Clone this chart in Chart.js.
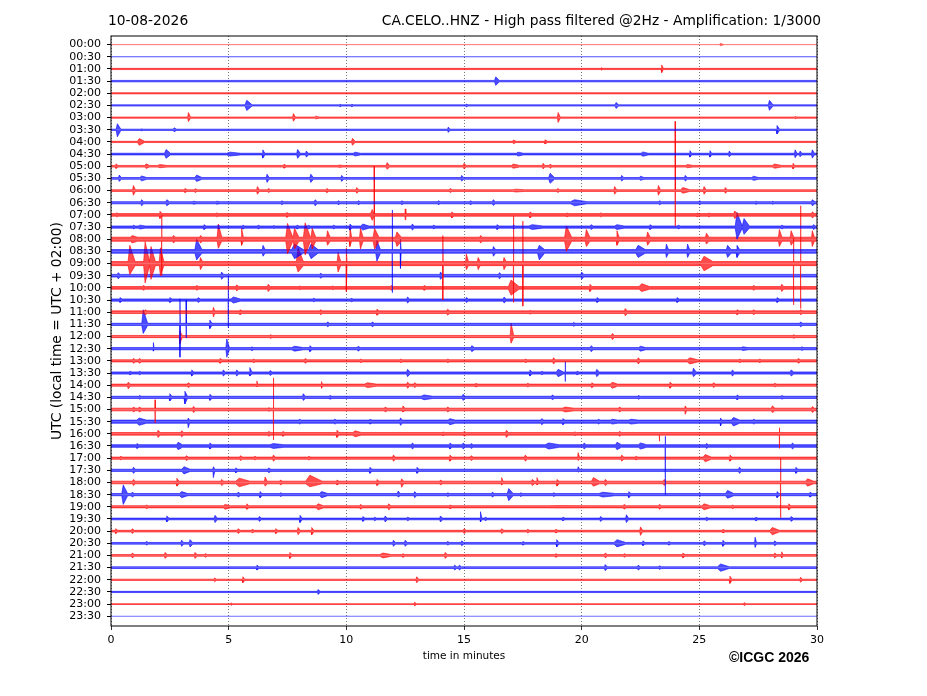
<!DOCTYPE html>
<html>
<head>
<meta charset="utf-8">
<title>CA.CELO..HNZ helicorder</title>
<script src="https://cdn.jsdelivr.net/npm/chart.js@4.4.1/dist/chart.umd.min.js"></script>
<style>
  html, body { margin: 0; padding: 0; background: #fff; }
  canvas { display: block; }
</style>
</head>
<body>
<canvas id="heli" width="927" height="696"></canvas>
<script>
// rows of the day plot, one every 30 minutes
var rowLabels = ["00:00","00:30","01:00","01:30","02:00","02:30","03:00","03:30",
  "04:00","04:30","05:00","05:30","06:00","06:30","07:00","07:30",
  "08:00","08:30","09:00","09:30","10:00","10:30","11:00","11:30",
  "12:00","12:30","13:00","13:30","14:00","14:30","15:00","15:30",
  "16:00","16:30","17:00","17:30","18:00","18:30","19:00","19:30",
  "20:00","20:30","21:00","21:30","22:00","22:30","23:00","23:30"];

var minuteTicks = [0, 5, 10, 15, 20, 25, 30];

// background noise half-amplitude of each trace (in row spacings)
var noise = [0, 0.01, 0.05, 0.06, 0.05, 0.05, 0.05, 0.05,
  0.05, 0.07, 0.07, 0.07, 0.07, 0.09, 0.11, 0.09,
  0.17, 0.15, 0.17, 0.11, 0.11, 0.09, 0.11, 0.09,
  0.09, 0.09, 0.09, 0.09, 0.09, 0.09, 0.11, 0.13,
  0.11, 0.11, 0.09, 0.09, 0.11, 0.09, 0.09, 0.07,
  0.07, 0.07, 0.07, 0.07, 0.05, 0.05, 0.03, 0];

// events per row: [minute, amplitude up, amplitude down, duration in minutes]
var events = [
  [[25.9,0.12,0.1,0.2]],
  [],
  [[23.4,0.33,0.3,0.1],[20.85,0.12,0.1,0.05]],
  [[16.35,0.35,0.35,0.2]],
  [],
  [[5.77,0.42,0.42,0.3],[21.46,0.25,0.25,0.15],[27.98,0.42,0.4,0.2],[15.1,0.12,0.12,0.1],[9.73,0.1,0.1,0.1],[10.23,0.1,0.1,0.1]],
  [[3.29,0.42,0.33,0.12],[7.75,0.33,0.3,0.12],[8.7,0.12,0.1,0.2],[19.0,0.42,0.4,0.12],[29.07,0.1,0.1,0.1]],
  [[0.27,0.5,0.58,0.2],[1.3,0.08,0.08,0.1],[2.68,0.16,0.16,0.15],[14.33,0.22,0.22,0.1],[28.3,0.35,0.35,0.15]],
  [[1.2,0.28,0.28,0.3],[10.26,0.3,0.28,0.15],[17.1,0.16,0.14,0.15],[18.44,0.18,0.16,0.15]],
  [[2.34,0.38,0.35,0.25],[5.06,0.16,0.16,0.6],[6.45,0.35,0.33,0.12],[7.93,0.38,0.35,0.15],[8.3,0.25,0.25,0.12],[10.37,0.16,0.16,0.3],[17.3,0.16,0.16,0.3],[22.6,0.18,0.18,0.3],[24.6,0.28,0.25,0.1],[25.45,0.28,0.25,0.1],[26.27,0.25,0.22,0.1],[29.07,0.35,0.3,0.1],[29.28,0.25,0.22,0.1],[29.8,0.35,0.33,0.12]],
  [[0.21,0.2,0.18,0.12],[1.49,0.2,0.18,0.2],[2.08,0.14,0.12,0.4],[7.35,0.18,0.16,0.12],[9.7,0.1,0.1,0.2],[11.73,0.3,0.25,0.15],[15.0,0.25,0.22,0.12],[17.1,0.18,0.16,0.35],[18.36,0.25,0.22,0.1],[18.66,0.18,0.16,0.1],[24.5,0.14,0.12,0.3],[28.2,0.18,0.16,0.4],[28.98,0.25,0.22,0.1]],
  [[0.35,0.28,0.25,0.12],[1.3,0.2,0.2,0.3],[3.64,0.28,0.25,0.3],[6.63,0.35,0.33,0.12],[8.49,0.35,0.33,0.15],[9.8,0.25,0.25,0.12],[14.9,0.25,0.22,0.12],[18.66,0.42,0.4,0.25],[21.7,0.25,0.22,0.12],[22.5,0.18,0.16,0.2],[24.4,0.25,0.22,0.12],[27.3,0.18,0.16,0.3]],
  [[0.95,0.42,0.38,0.12],[3.14,0.18,0.16,0.12],[3.57,0.16,0.16,0.12],[6.22,0.33,0.3,0.12],[6.69,0.18,0.16,0.12],[9.17,0.18,0.16,0.12],[10.44,0.25,0.22,0.12],[14.41,0.18,0.16,0.12],[17.2,0.12,0.12,0.5],[18.98,0.18,0.16,0.12],[21.4,0.33,0.3,0.12],[23.26,0.42,0.38,0.12],[23.97,5.7,2.9,0.02],[24.3,0.25,0.22,0.4],[25.2,0.33,0.3,0.12],[26.1,0.25,0.22,0.12]],
  [[1.3,0.25,0.25,0.12],[2.37,0.25,0.25,0.15],[3.5,0.12,0.12,0.2],[4.49,0.12,0.12,0.2],[7.25,0.16,0.16,0.12],[8.67,0.25,0.25,0.12],[9.65,0.16,0.16,0.12],[10.5,0.16,0.16,0.12],[12.35,0.16,0.16,0.12],[13.9,0.16,0.16,0.12],[15.26,0.16,0.16,0.12],[16.24,0.25,0.22,0.12],[19.7,0.25,0.25,0.7],[23.3,0.16,0.16,0.12],[25.0,0.16,0.16,0.12],[27.4,0.12,0.12,0.12],[28.1,0.12,0.12,0.12],[29.8,0.25,0.25,0.15]],
  [[0.24,0.16,0.16,0.12],[2.08,0.3,0.3,0.12],[4.49,0.16,0.16,0.12],[7.47,0.2,0.2,0.12],[11.1,0.45,0.45,0.3],[11.18,4.0,0.9,0.02],[12.5,0.5,0.4,0.04],[14.48,0.25,0.25,0.12],[17.8,0.25,0.25,0.12],[19.37,0.16,0.16,0.12],[20.8,0.16,0.16,0.12],[24.9,0.16,0.16,0.12],[25.4,0.16,0.16,0.12],[26.5,0.33,0.3,0.15],[29.8,0.25,0.25,0.12]],
  [[0.95,0.16,0.16,0.12],[1.23,0.16,0.16,0.3],[3.95,0.2,0.2,0.12],[4.55,0.16,0.16,0.12],[5.6,0.16,0.16,0.12],[6.25,0.16,0.16,0.12],[6.9,0.12,0.12,0.12],[7.9,0.16,0.16,0.12],[8.38,0.16,0.16,0.12],[9.45,0.16,0.16,0.12],[10.15,0.25,0.25,0.12],[10.7,0.25,0.25,0.35],[12.8,0.25,0.25,0.12],[13.7,0.16,0.16,0.12],[16.4,0.2,0.2,0.12],[17.1,0.16,0.16,0.12],[17.9,0.2,0.2,0.6],[20.4,0.2,0.2,0.12],[21.5,0.2,0.2,0.4],[22.9,0.2,0.2,0.12],[24.1,0.16,0.16,0.12],[26.6,1.2,1.0,0.3],[26.9,0.7,0.6,0.3],[28.5,0.16,0.16,0.12],[29.85,0.2,0.2,0.12]],
  [[0.9,0.3,0.3,0.3],[2.15,2.0,3.0,0.02],[2.65,0.3,0.3,0.12],[3.8,0.3,0.3,0.12],[4.56,1.25,0.75,0.2],[5.55,0.9,0.5,0.1],[7.5,1.3,1.2,0.3],[7.8,0.9,0.8,0.25],[8.25,1.35,1.3,0.3],[8.55,0.9,0.8,0.2],[9.2,0.7,0.5,0.15],[10.15,1.1,0.6,0.1],[10.6,0.9,0.8,0.15],[11.2,0.9,0.8,0.25],[12.15,0.6,0.6,0.25],[15.7,0.3,0.3,0.12],[19.35,1.1,1.0,0.3],[20.2,0.8,0.6,0.2],[21.5,0.7,0.5,0.12],[22.8,0.6,0.5,0.15],[25.3,0.5,0.4,0.15],[28.4,0.8,0.6,0.15],[28.9,0.7,0.5,0.15],[29.8,0.7,0.6,0.12]],
  [[3.64,1.0,0.7,0.3],[6.46,0.5,0.4,0.12],[7.8,0.6,0.6,0.5],[8.5,0.6,0.6,0.4],[11.3,0.9,0.8,0.2],[11.95,3.4,3.4,0.02],[12.3,1.0,1.4,0.04],[16.25,0.4,0.4,0.12],[18.2,0.5,0.7,0.3],[22.4,0.5,0.5,0.4],[23.6,0.6,0.5,0.12],[24.5,0.6,0.5,0.12],[26.2,0.5,0.5,0.2],[26.6,0.5,0.5,0.15]],
  [[0.8,1.5,0.9,0.3],[1.45,1.8,1.6,0.25],[1.7,1.4,1.3,0.25],[2.1,1.3,1.0,0.2],[3.8,0.5,0.5,0.12],[7.95,1.3,0.7,0.3],[9.65,0.9,0.7,0.15],[10.0,1.3,2.3,0.04],[14.1,2.3,3.0,0.02],[15.1,0.8,0.5,0.12],[15.6,0.5,0.5,0.12],[16.7,0.5,0.5,0.12],[17.1,3.9,3.2,0.02],[17.5,3.5,3.5,0.02],[25.2,0.6,0.6,0.5],[29.0,2.1,3.4,0.02],[29.3,4.75,3.7,0.02]],
  [[0.3,0.25,0.25,0.12],[4.7,0.3,0.3,0.12],[8.9,0.2,0.2,0.12],[14.0,0.3,0.3,0.12],[16.5,0.25,0.25,0.12],[20.0,0.3,0.3,0.12]],
  [[1.37,0.2,0.2,0.12],[3.64,0.2,0.2,0.12],[5.34,0.25,0.25,0.12],[6.68,0.3,0.3,0.12],[8.0,0.15,0.15,0.12],[9.4,0.15,0.15,0.12],[11.9,0.2,0.2,0.12],[13.3,0.2,0.2,0.12],[17.0,0.65,0.6,0.45],[20.35,0.3,0.3,0.12],[22.55,0.35,0.3,0.45],[27.3,0.2,0.2,0.12],[28.5,0.3,0.3,0.12]],
  [[0.38,0.2,0.2,0.12],[2.5,0.2,0.2,0.12],[3.7,0.2,0.2,0.12],[4.98,2.0,2.3,0.02],[5.2,0.25,0.25,0.4],[8.6,0.15,0.15,0.12],[10.2,0.15,0.15,0.12],[12.6,0.25,0.25,0.12],[15.1,0.2,0.2,0.12],[16.7,0.25,0.25,0.12],[20.65,0.2,0.2,0.12],[24.05,0.2,0.2,0.12],[28.3,0.2,0.2,0.12]],
  [[1.45,0.2,0.2,0.12],[4.35,0.4,0.4,0.08],[5.48,0.2,0.2,0.12],[8.9,0.2,0.2,0.12],[11.3,0.25,0.25,0.12],[14.3,0.25,0.25,0.12],[17.8,0.15,0.15,0.12],[21.85,0.3,0.3,0.12],[26.6,0.2,0.2,0.12],[27.3,0.2,0.2,0.12],[29.3,0.2,0.2,0.12]],
  [[1.37,1.2,0.75,0.25],[2.93,2.1,2.7,0.02],[3.19,2.0,1.1,0.02],[4.2,0.35,0.35,0.12],[9.2,0.2,0.2,0.12],[11.1,0.2,0.2,0.12],[19.65,0.15,0.15,0.12],[29.3,0.2,0.2,0.12]],
  [[2.93,0.5,0.6,0.12],[6.76,0.15,0.15,0.12],[17.0,1.1,0.55,0.15],[21.3,0.25,0.25,0.12],[29.0,0.15,0.15,0.12]],
  [[1.8,0.5,0.2,0.04],[4.92,0.8,0.7,0.15],[5.98,0.15,0.15,0.12],[7.8,0.2,0.2,0.5],[8.45,0.25,0.25,0.12],[10.5,0.2,0.2,0.12],[15.33,0.25,0.25,0.15],[20.4,0.25,0.25,0.12],[22.5,0.2,0.2,0.3],[26.85,0.15,0.15,0.3],[29.35,0.15,0.15,0.12]],
  [[0.95,0.2,0.2,0.12],[1.2,0.2,0.2,0.12],[4.63,0.2,0.2,0.12],[6.05,0.15,0.15,0.12],[8.25,0.2,0.2,0.12],[10.6,0.15,0.15,0.12],[12.3,0.15,0.15,0.12],[14.3,0.15,0.15,0.12],[17.6,0.15,0.15,0.12],[18.8,0.25,0.25,0.12],[22.4,0.25,0.25,0.12],[24.6,0.25,0.25,0.45],[26.7,0.15,0.15,0.12],[27.55,0.15,0.15,0.12],[29.2,0.2,0.2,0.12]],
  [[0.8,0.15,0.15,0.12],[1.2,0.15,0.15,0.12],[3.43,0.25,0.25,0.12],[4.77,0.25,0.25,0.12],[5.34,0.25,0.25,0.12],[5.9,0.45,0.25,0.12],[6.76,0.2,0.2,0.12],[12.6,0.3,0.3,0.15],[17.8,0.25,0.25,0.12],[18.3,0.15,0.15,0.12],[19.0,0.3,0.3,0.3],[19.3,0.94,0.7,0.02],[19.8,0.15,0.15,0.12],[20.64,0.3,0.3,0.15],[24.75,0.4,0.3,0.15],[26.4,0.25,0.25,0.12],[28.9,0.25,0.25,0.15]],
  [[0.73,0.25,0.3,0.12],[3.28,0.2,0.2,0.12],[6.2,0.35,0.15,0.04],[8.95,0.3,0.25,0.04],[10.9,0.2,0.2,0.5],[12.6,0.25,0.25,0.12],[12.9,0.2,0.2,0.12],[15.5,0.15,0.15,0.12],[17.7,0.15,0.15,0.12],[20.43,0.2,0.2,0.12],[21.3,0.25,0.25,0.3],[23.75,0.25,0.25,0.12],[25.6,0.2,0.2,0.12],[28.2,0.15,0.15,0.12]],
  [[1.2,0.15,0.15,0.12],[2.5,0.3,0.3,0.12],[3.14,0.5,0.55,0.15],[4.2,0.25,0.25,0.12],[8.17,0.3,0.25,0.12],[9.3,0.15,0.15,0.12],[13.3,0.2,0.2,0.5],[14.96,0.25,0.25,0.12],[18.75,0.2,0.2,0.12],[22.4,0.15,0.15,0.12],[26.6,0.2,0.2,0.12],[28.5,0.15,0.15,0.12]],
  [[0.95,0.2,0.2,0.12],[1.2,0.2,0.2,0.12],[1.87,0.8,1.1,0.02],[3.5,0.25,0.25,0.12],[6.7,0.15,0.15,0.12],[6.9,2.6,2.5,0.02],[11.65,0.2,0.2,0.12],[12.4,0.3,0.2,0.12],[14.3,0.2,0.2,0.12],[19.3,0.2,0.2,0.5],[21.6,0.2,0.2,0.12],[24.4,0.3,0.4,0.08],[28.1,0.3,0.25,0.15],[29.8,0.25,0.25,0.12]],
  [[1.2,0.3,0.3,0.4],[3.28,0.3,0.5,0.08],[8.0,0.2,0.2,0.12],[9.5,0.2,0.2,0.12],[11.0,0.2,0.2,0.12],[12.3,0.3,0.3,0.12],[14.4,0.25,0.25,0.3],[18.3,0.25,0.25,0.12],[19.2,0.25,0.25,0.12],[20.7,0.2,0.2,0.12],[21.3,0.2,0.2,0.3],[22.1,0.2,0.2,0.4],[25.9,0.3,0.35,0.08],[26.45,0.35,0.35,0.35],[27.3,0.2,0.2,0.12]],
  [[2.0,0.3,0.3,0.12],[3.0,0.25,0.25,0.12],[6.7,0.2,0.2,0.12],[7.3,0.2,0.2,0.12],[9.6,0.3,0.3,0.12],[10.37,0.25,0.25,0.35],[14.1,0.15,0.15,0.12],[15.0,0.2,0.2,0.12],[16.8,0.3,0.3,0.12],[19.7,0.15,0.15,0.12],[21.6,0.2,0.2,0.12],[23.3,0.1,0.6,0.02],[28.4,0.5,1.2,0.02]],
  [[1.1,0.2,0.2,0.12],[2.85,0.3,0.3,0.25],[4.2,0.25,0.25,0.12],[6.9,0.2,0.2,0.6],[12.8,0.25,0.25,0.12],[14.4,0.25,0.25,0.12],[14.96,0.25,0.25,0.12],[15.3,0.2,0.2,0.12],[18.6,0.25,0.25,0.6],[20.1,0.25,0.25,0.12],[21.5,0.3,0.3,0.25],[22.5,0.25,0.25,0.35],[23.55,0.8,4.0,0.02],[25.3,0.2,0.2,0.12],[28.95,0.25,0.25,0.12]],
  [[0.4,0.15,0.15,0.12],[3.2,0.2,0.2,0.12],[5.5,0.2,0.2,0.12],[6.1,0.15,0.15,0.12],[6.9,0.25,0.25,0.12],[8.4,0.15,0.15,0.12],[12.0,0.25,0.25,0.12],[14.4,0.25,0.25,0.12],[15.3,0.2,0.2,0.12],[17.6,0.25,0.25,0.12],[19.85,0.45,0.2,0.08],[21.7,0.25,0.25,0.12],[22.3,0.15,0.15,0.12],[25.25,0.3,0.3,0.35],[26.3,0.25,0.25,0.12]],
  [[0.95,0.25,0.25,0.12],[3.1,0.3,0.3,0.35],[4.35,0.3,0.6,0.08],[5.3,0.2,0.2,0.12],[6.7,0.2,0.2,0.12],[11.0,0.25,0.25,0.12],[13.0,0.25,0.25,0.12],[19.85,0.3,0.15,0.08],[26.7,0.25,0.25,0.12],[29.1,0.25,0.25,0.12]],
  [[0.95,0.25,0.25,0.12],[2.8,0.35,0.3,0.12],[4.7,0.25,0.25,0.12],[5.45,0.35,0.35,0.6],[6.55,0.45,0.3,0.12],[7.2,0.2,0.2,0.12],[8.45,0.6,0.35,0.7],[9.6,0.2,0.2,0.12],[11.3,0.25,0.25,0.12],[12.35,0.3,0.4,0.12],[14.0,0.2,0.2,0.12],[16.6,0.4,0.2,0.08],[17.9,0.25,0.25,0.12],[18.1,0.4,0.2,0.08],[18.95,0.25,0.3,0.12],[20.5,0.4,0.3,0.35],[21.0,0.25,0.25,0.12],[23.5,0.25,0.25,0.12],[28.45,2.0,2.9,0.02],[29.6,0.3,0.3,0.35]],
  [[0.52,0.8,0.8,0.25],[0.9,0.2,0.2,0.12],[3.0,0.25,0.25,0.35],[5.4,0.2,0.2,0.12],[6.33,0.25,0.25,0.12],[7.2,0.15,0.15,0.12],[8.95,0.25,0.25,0.35],[12.2,0.3,0.2,0.12],[12.9,0.25,0.25,0.12],[14.3,0.15,0.15,0.12],[16.2,0.2,0.2,0.12],[16.9,0.5,0.5,0.25],[17.4,0.15,0.15,0.12],[18.8,0.15,0.15,0.12],[20.9,0.2,0.2,0.7],[22.0,0.25,0.25,0.12],[25.0,0.15,0.15,0.12],[26.2,0.35,0.3,0.35],[28.3,0.25,0.25,0.12],[29.7,0.2,0.2,0.12]],
  [[1.5,0.15,0.15,0.12],[4.85,0.2,0.2,0.3],[5.77,0.25,0.2,0.12],[8.8,0.25,0.25,0.3],[10.6,0.2,0.2,0.12],[11.8,0.25,0.25,0.12],[14.4,0.15,0.15,0.12],[19.0,0.1,0.1,1.8],[21.8,0.2,0.2,0.12],[23.3,0.2,0.2,0.12],[25.2,0.25,0.25,0.35],[26.4,0.15,0.15,0.12],[28.8,0.25,0.25,0.12]],
  [[2.37,0.25,0.25,0.12],[4.42,0.3,0.3,0.12],[6.3,0.2,0.2,0.12],[8.03,0.3,0.3,0.12],[10.7,0.2,0.2,0.12],[11.2,0.15,0.15,0.12],[11.65,0.25,0.25,0.12],[12.6,0.15,0.15,0.12],[14.0,0.25,0.25,0.12],[15.7,0.6,0.25,0.08],[15.9,0.15,0.15,0.12],[19.2,0.15,0.15,0.12],[20.8,0.2,0.2,0.12],[21.9,0.35,0.3,0.12],[25.3,0.15,0.15,0.12],[27.4,0.15,0.15,0.12],[28.9,0.2,0.2,0.12]],
  [[0.2,0.2,0.2,0.12],[0.9,0.2,0.2,0.12],[5.4,0.2,0.2,0.12],[6.0,0.15,0.15,0.12],[7.0,0.2,0.2,0.12],[7.95,0.3,0.3,0.12],[8.53,0.3,0.3,0.12],[15.0,0.2,0.2,0.12],[16.6,0.2,0.2,0.12],[17.7,0.15,0.15,0.12],[18.9,0.15,0.15,0.12],[22.5,0.35,0.35,0.12],[26.0,0.15,0.15,0.12],[28.1,0.3,0.3,0.4]],
  [[1.5,0.15,0.15,0.12],[3.0,0.25,0.25,0.12],[3.36,0.3,0.3,0.15],[12.0,0.25,0.25,0.12],[12.5,0.25,0.25,0.12],[14.3,0.15,0.15,0.12],[14.9,0.2,0.2,0.12],[17.5,0.15,0.15,0.12],[18.94,0.3,0.3,0.12],[21.5,0.3,0.3,0.5],[22.6,0.2,0.2,0.12],[23.7,0.15,0.15,0.12],[25.2,0.2,0.2,0.12],[26.0,0.25,0.25,0.12],[27.37,0.5,0.35,0.08],[28.2,0.2,0.2,0.12]],
  [[0.9,0.2,0.2,0.12],[2.3,0.25,0.25,0.12],[3.57,0.25,0.25,0.12],[4.0,0.15,0.15,0.12],[7.6,0.25,0.25,0.12],[11.55,0.2,0.2,0.5],[12.4,0.15,0.15,0.12],[14.2,0.25,0.25,0.12],[18.9,0.15,0.15,0.12],[21.0,0.2,0.2,0.12],[21.8,0.15,0.15,0.12],[24.3,0.2,0.2,0.12],[28.2,0.2,0.2,0.12],[28.5,0.3,0.2,0.08]],
  [[6.2,0.2,0.2,0.12],[14.6,0.2,0.2,0.12],[14.8,0.2,0.2,0.12],[21.0,0.25,0.25,0.12],[22.4,0.2,0.2,0.12],[23.3,0.15,0.15,0.12],[25.9,0.3,0.3,0.5]],
  [[4.4,0.15,0.15,0.12],[5.6,0.25,0.25,0.12],[12.99,0.25,0.25,0.12],[26.3,0.3,0.3,0.12],[29.3,0.2,0.2,0.12]],
  [[8.8,0.2,0.2,0.12]],
  [[5.1,0.1,0.1,0.1],[12.9,0.15,0.15,0.12],[26.9,0.12,0.12,0.12]],
  []
];

var stationTitle = 'CA.CELO..HNZ - High pass filtered @2Hz - Amplification: 1/3000';
var dayLabel = '10-08-2026';

// one side (up or down) of a trace's envelope, as points for the line
function traceSide(row, side) {
    var n = noise[row];
    var pts = [{x: 0, y: row + side * n}];
    events[row].forEach(function(ev) {
        var amp = side < 0 ? ev[1] : ev[2];
        var start = Math.max(0, ev[0] - ev[3] * 0.25);
        var end = Math.min(30, ev[0] + ev[3] * 0.75);
        pts.push({x: start, y: row + side * n});
        pts.push({x: ev[0], y: row + side * Math.max(amp, n)});
        pts.push({x: end, y: row + side * n});
    });
    pts.push({x: 30, y: row + side * n});
    pts.sort(function(a, b) { return a.x - b.x; });
    return pts;
}

var datasets = [];
rowLabels.forEach(function(label, i) {
    var red = i % 2 === 0;
    var quiet = noise[i] < 0.02;
    var line = red ? 'rgba(255,0,0,' + (quiet ? 0.55 : 0.95) + ')' : 'rgba(0,0,255,' + (quiet ? 0.55 : 0.95) + ')';
    var fillCol = red ? 'rgba(255,0,0,0.7)' : 'rgba(0,0,255,0.7)';
    [-1, 1].forEach(function(side) {
        datasets.push({
            label: label,
            data: traceSide(i, side),
            borderColor: line,
            backgroundColor: fillCol,
            borderWidth: 0.6,
            pointRadius: 0,
            tension: 0,
            fill: {value: i}
        });
    });
});

var helicorderText = {
    id: 'helicorderText',
    afterDraw: function(chart) {
        var ctx = chart.ctx;
        var a = chart.chartArea;
        ctx.save();
        ctx.strokeStyle = '#000';
        ctx.lineWidth = 1;
        ctx.strokeRect(a.left, a.top, a.right - a.left, a.bottom - a.top);

        ctx.fillStyle = '#000';
        ctx.font = '13.8px "DejaVu Sans"';
        ctx.textBaseline = 'alphabetic';
        ctx.textAlign = 'left';
        ctx.fillText(dayLabel, a.left - 3, 25);
        ctx.textAlign = 'right';
        ctx.fillText(stationTitle, a.right + 4, 25);

        ctx.textAlign = 'center';
        ctx.textBaseline = 'middle';
        ctx.save();
        ctx.translate(57, (a.top + a.bottom) / 2);
        ctx.rotate(-Math.PI / 2);
        ctx.fillText('UTC (local time = UTC + 02:00)', 0, 0);
        ctx.restore();

        ctx.font = '10.5px "DejaVu Sans"';
        ctx.fillText('time in minutes', (a.left + a.right) / 2, 656);

        ctx.font = 'bold 14px "Liberation Sans"';
        ctx.textAlign = 'left';
        ctx.fillText('\u00A9ICGC 2026', 729, 658);
        ctx.restore();
    }
};

Chart.defaults.font.family = '"DejaVu Sans"';
Chart.defaults.color = '#000';

new Chart(document.getElementById('heli'), {
    type: 'line',
    data: {datasets: datasets},
    plugins: [helicorderText],
    options: {
        responsive: false,
        animation: false,
        layout: {padding: {top: 36, right: 110, left: 0, bottom: 0}},
        plugins: {
            legend: {display: false},
            tooltip: {enabled: false},
            title: {display: false}
        },
        scales: {
            x: {
                type: 'linear',
                min: 0,
                max: 30,
                afterBuildTicks: function(scale) {
                    scale.ticks = minuteTicks.map(function(v) { return {value: v}; });
                },
                afterFit: function(scale) { scale.height = 70; },
                ticks: {font: {size: 11}, padding: 4, maxRotation: 0},
                grid: {
                    color: '#555',
                    lineWidth: 0.8,
                    tickLength: 4,
                    tickColor: '#000',
                    tickBorderDash: []
                },
                border: {display: false, dash: [1, 2]}
            },
            y: {
                type: 'linear',
                reverse: true,
                min: -0.71,
                max: 47.8,
                afterBuildTicks: function(scale) {
                    scale.ticks = rowLabels.map(function(l, i) { return {value: i}; });
                },
                afterFit: function(scale) { scale.width = 111; },
                ticks: {
                    autoSkip: false,
                    font: {size: 11},
                    padding: 6,
                    callback: function(v) { return rowLabels[Math.round(v)]; }
                },
                grid: {
                    drawOnChartArea: false,
                    tickLength: 4,
                    tickColor: '#000'
                },
                border: {display: false}
            }
        }
    }
});
</script>
</body>
</html>
